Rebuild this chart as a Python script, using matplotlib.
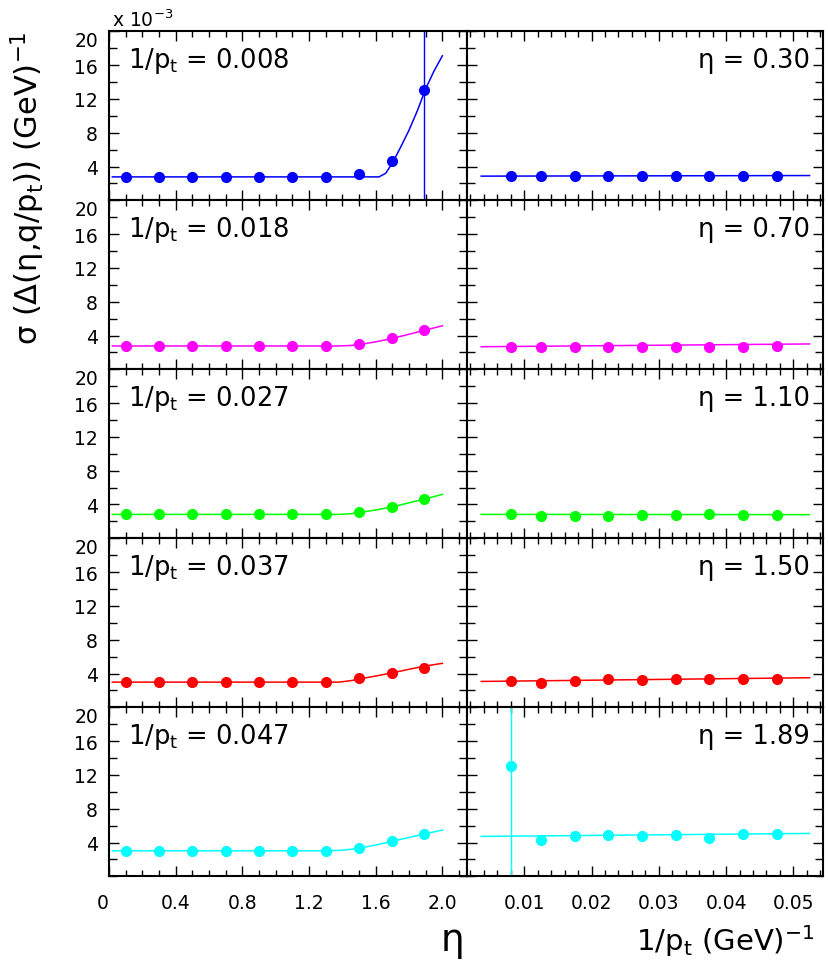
#!/usr/bin/env python3
"""
Resolution sigma(Delta(eta, q/pt)) vs eta (left column, fixed 1/pt)
and vs 1/pt (right column, fixed eta).  Values in units of 1e-3 (GeV)^-1.
"""

import matplotlib
matplotlib.use("Agg")
import matplotlib.pyplot as plt
from matplotlib.ticker import FixedLocator, MultipleLocator

plt.rcParams["font.family"] = ["DejaVu Sans"]
plt.rcParams["mathtext.fontset"] = "dejavusans"

# ── data (units of 1e-3) ──────────────────────────────────────────────────
ETA = [0.1, 0.3, 0.5, 0.7, 0.9, 1.1, 1.3, 1.5, 1.7, 1.89]
INV_PT = [0.008, 0.0125, 0.0175, 0.0225, 0.0275, 0.0325, 0.0375, 0.0425, 0.0475]

ROW_PT_LABELS = ["0.008", "0.018", "0.027", "0.037", "0.047"]
ROW_ETA_LABELS = ["0.30", "0.70", "1.10", "1.50", "1.89"]
ROW_COLORS = ["#0000ff", "#ff00ff", "#00ff00", "#ff0000", "#00ffff"]

# left column: sigma vs eta
SIG_VS_ETA = [
    [2.77, 2.77, 2.77, 2.77, 2.77, 2.8, 2.77, 3.1, 4.7, 13.1],
    [2.76, 2.76, 2.76, 2.76, 2.76, 2.76, 2.76, 2.94, 3.65, 4.65],
    [2.83, 2.83, 2.83, 2.83, 2.83, 2.83, 2.83, 3.07, 3.7, 4.65],
    [2.98, 2.98, 2.98, 2.98, 2.98, 2.98, 2.98, 3.42, 4.05, 4.64],
    [3.02, 3.02, 3.02, 3.02, 3.02, 3.02, 3.02, 3.3, 4.13, 5.0],
]
ERR_VS_ETA = [
    [0, 0, 0, 0, 0, 0, 0, 0, 0, 20.0],
    [0] * 10,
    [0] * 10,
    [0] * 10,
    [0] * 10,
]

# fitted curves (eta, sigma)
FIT_ETA_X = [
    [0.02, 1.62, 1.66, 1.70, 1.75, 1.80, 1.85, 1.90, 1.95, 2.00],
    [0.02, 1.38, 1.45, 1.50, 1.60, 1.70, 1.80, 1.90, 2.00],
    [0.02, 1.38, 1.45, 1.50, 1.60, 1.70, 1.80, 1.90, 2.00],
    [0.02, 1.38, 1.45, 1.50, 1.60, 1.70, 1.80, 1.90, 2.00],
    [0.02, 1.33, 1.42, 1.50, 1.60, 1.70, 1.80, 1.90, 2.00],
]
FIT_ETA_Y = [
    [2.77, 2.77, 3.2, 4.4, 6.3, 8.3, 10.6, 13.2, 15.3, 17.1],
    [2.76, 2.76, 2.82, 2.92, 3.25, 3.65, 4.15, 4.65, 5.15],
    [2.83, 2.83, 2.9, 3.05, 3.35, 3.72, 4.2, 4.68, 5.2],
    [2.98, 2.98, 3.15, 3.35, 3.7, 4.08, 4.5, 4.9, 5.2],
    [3.02, 3.02, 3.12, 3.32, 3.7, 4.15, 4.6, 5.05, 5.47],
]

# right column: sigma vs 1/pt
SIG_VS_PT = [
    [2.85, 2.86, 2.86, 2.86, 2.86, 2.83, 2.86, 2.86, 2.86],
    [2.64, 2.6, 2.64, 2.64, 2.64, 2.6, 2.67, 2.67, 2.76],
    [2.83, 2.64, 2.64, 2.67, 2.71, 2.79, 2.83, 2.71, 2.71],
    [3.06, 2.91, 3.06, 3.3, 3.26, 3.3, 3.34, 3.34, 3.34],
    [13.0, 4.3, 4.76, 4.84, 4.8, 4.84, 4.56, 4.96, 4.96],
]
ERR_VS_PT = [
    [0] * 9,
    [0] * 9,
    [0] * 9,
    [0] * 9,
    [20.0, 0, 0, 0, 0, 0, 0, 0, 0],
]
FIT_PT_X = [0.0036, 0.0524]
FIT_PT_Y = [
    [2.86, 2.93],
    [2.67, 3.0],
    [2.83, 2.8],
    [3.06, 3.5],
    [4.72, 5.07],
]

Y_TICKS = [4, 8, 12, 16, 20]
Y_MINOR = [0, 2, 6, 10, 14, 18]

# ── layout (pixels of a 829x962 canvas) ───────────────────────────────────
W, H = 829, 962
LEFT_X0, LEFT_X1 = 109, 466.7
RIGHT_X0, RIGHT_X1 = 466.7, 823
TOP_Y, ROW_H = 32.3, 169.0
TICK_FS = 13.5
PANEL_FS = 18.5


def px_axes(fig, x0, x1, top):
    return fig.add_axes([x0 / W, 1 - (top + ROW_H) / H, (x1 - x0) / W, ROW_H / H])


def style_axes(ax):
    ax.set_ylim(0, 20)
    ax.yaxis.set_major_locator(FixedLocator(Y_TICKS))
    ax.yaxis.set_minor_locator(FixedLocator(Y_MINOR))
    ax.tick_params(which="both", direction="in", top=True, right=True,
                   width=1.0, labelsize=TICK_FS)
    ax.tick_params(which="major", length=7)
    ax.tick_params(which="minor", length=4)
    ax.tick_params(axis="y", which="minor", length=6)
    ax.tick_params(axis="x", pad=12)
    ax.tick_params(axis="y", pad=8)
    for sp in ax.spines.values():
        sp.set_linewidth(1.5)


def main() -> None:
    fig = plt.figure(figsize=(W / 100, H / 100), dpi=100)
    bottom_left = None

    for i in range(5):
        top = TOP_Y + i * ROW_H
        col = ROW_COLORS[i]
        last = i == 4

        # ── left: vs eta ──
        ax = px_axes(fig, LEFT_X0, LEFT_X1, top)
        style_axes(ax)
        ax.set_xlim(0, 2.146)
        ax.xaxis.set_major_locator(MultipleLocator(0.4))
        ax.xaxis.set_minor_locator(MultipleLocator(0.1))
        ax.plot(FIT_ETA_X[i], FIT_ETA_Y[i], color=col, lw=1.1)
        ax.errorbar(ETA, SIG_VS_ETA[i], yerr=ERR_VS_ETA[i], fmt="o", color=col,
                    ms=7, elinewidth=1.0, capsize=0)
        ax.text(0.053, 0.79, r"1/p$_{\mathrm{t}}$ = " + ROW_PT_LABELS[i],
                transform=ax.transAxes, fontsize=PANEL_FS, ha="left", va="baseline")
        # top label sits just below its tick, as in the original
        ax.yaxis.get_major_ticks()[-1].label1.set_verticalalignment("top")
        if last:
            ax.xaxis.set_major_formatter(
                plt.FuncFormatter(lambda v, p: "0" if abs(v) < 1e-9 else f"{v:.1f}"))
            bottom_left = ax
        else:
            ax.tick_params(axis="x", labelbottom=False)

        # ── right: vs 1/pt ──
        ax2 = px_axes(fig, RIGHT_X0, RIGHT_X1, top)
        style_axes(ax2)
        ax2.set_xlim(0.00144, 0.0544)
        ax2.xaxis.set_major_locator(MultipleLocator(0.01))
        ax2.xaxis.set_minor_locator(MultipleLocator(0.002))
        ax2.tick_params(axis="y", labelleft=False)
        ax2.plot(FIT_PT_X, FIT_PT_Y[i], color=col, lw=1.1)
        ax2.errorbar(INV_PT, SIG_VS_PT[i], yerr=ERR_VS_PT[i], fmt="o", color=col,
                     ms=7, elinewidth=1.0, capsize=0)
        ax2.text(0.9635, 0.79, "η = " + ROW_ETA_LABELS[i],
                 transform=ax2.transAxes, fontsize=PANEL_FS, ha="right", va="baseline")
        if last:
            ax2.xaxis.set_major_formatter(plt.FuncFormatter(lambda v, p: f"{v:.2f}"))
        else:
            ax2.tick_params(axis="x", labelbottom=False)

    # ── titles / axis labels ──
    fig.text(112 / W, 1 - 27 / H, r"x 10$^{-3}$", fontsize=TICK_FS, ha="left", va="baseline")
    fig.text(28 / W, 1 - 188 / H,
             r"σ (Δ(η,q/p$_{\mathrm{t}}$)) (GeV)$^{-1}$",
             rotation=90, fontsize=22, ha="center", va="center")
    fig.text(452 / W, 1 - 951 / H, "η", fontsize=27, ha="center", va="baseline")
    fig.text(815 / W, 1 - 951 / H, r"1/p$_{\mathrm{t}}$ (GeV)$^{-1}$",
             fontsize=21, ha="right", va="baseline")

    # "0" on the eta axis is pushed left of its tick, ROOT style
    fig.canvas.draw()
    for lbl in bottom_left.get_xticklabels():
        if lbl.get_text() == "0":
            lbl.set_horizontalalignment("right")
            lbl.set_x(-0.02)

    fig.savefig("out.png", dpi=100)


if __name__ == "__main__":
    main()
